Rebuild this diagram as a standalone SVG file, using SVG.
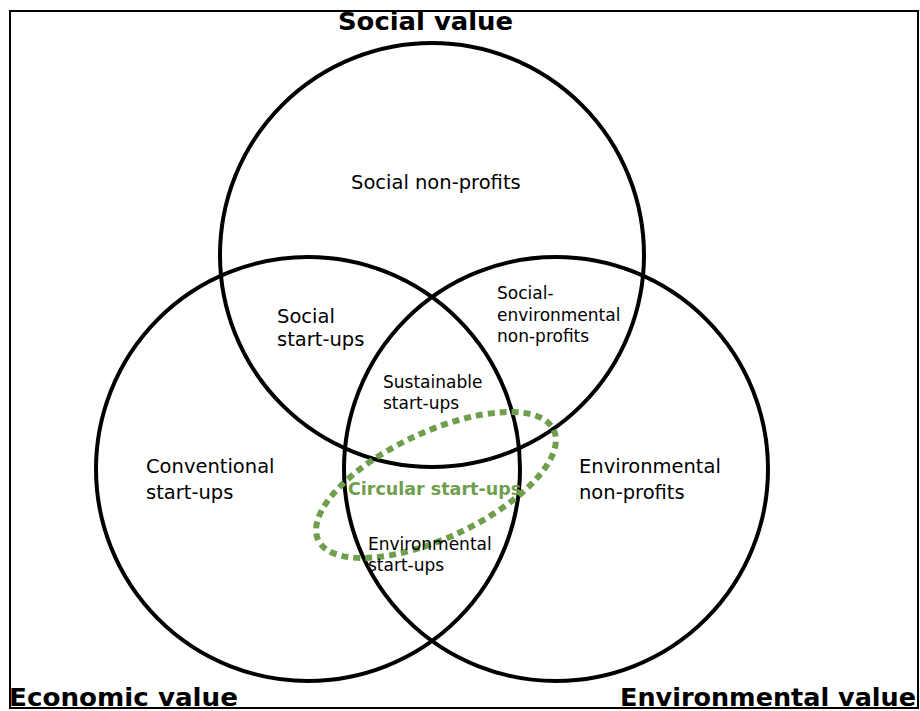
<svg xmlns="http://www.w3.org/2000/svg" width="920" height="711" viewBox="0 0 920 711">
<style>
.frame{fill:none;stroke:#000;stroke-width:2}
.set{fill:none;stroke:#000;stroke-width:4}
.lbl{font-family:"DejaVu Sans",Verdana,sans-serif;font-size:17px;fill:#000}
.lg{font-size:19.5px}
.title{font-family:"DejaVu Sans",Verdana,sans-serif;font-weight:bold;font-size:25px;fill:#000}
.circ{fill:none;stroke:#6f9e4c;stroke-width:6;stroke-dasharray:7 5}
.ctext{font-family:"DejaVu Sans",Verdana,sans-serif;font-weight:bold;font-size:17.5px;fill:#6f9e4c}
</style>
<rect width="920" height="711" fill="#fff"/>
<rect class="frame" x="10" y="11" width="908" height="697"/>
<g id="social">
<circle class="set" cx="432" cy="255" r="212"/>
<text class="title" x="338" y="30" style="font-size:24px" textLength="175" lengthAdjust="spacingAndGlyphs">Social value</text>
</g>
<g id="economic">
<circle class="set" cx="308" cy="469" r="212"/>
<text class="title" x="9" y="705.5" textLength="229" lengthAdjust="spacingAndGlyphs">Economic value</text>
</g>
<g id="environmental">
<circle class="set" cx="556" cy="469" r="212"/>
<text class="title" x="620" y="705.5" textLength="296" lengthAdjust="spacingAndGlyphs">Environmental value</text>
</g>
<g id="circular">
<ellipse class="circ" cx="436" cy="485" rx="130" ry="53" transform="rotate(-25 436 485)"/>
<text class="ctext" x="348" y="495">Circular start-ups</text>
</g>
<g id="labels">
<text class="lbl lg" x="351" y="189">Social non-profits</text>
<text class="lbl lg" x="277" y="323">Social<tspan x="277" dy="23">start-ups</tspan></text>
<text class="lbl" x="497" y="299">Social-<tspan x="497" dy="22">environmental</tspan><tspan x="497" dy="21">non-profits</tspan></text>
<text class="lbl" x="383" y="388">Sustainable<tspan x="383" dy="20.5">start-ups</tspan></text>
<text class="lbl lg" x="146" y="473">Conventional<tspan x="146" dy="26">start-ups</tspan></text>
<text class="lbl lg" x="579" y="473">Environmental<tspan x="579" dy="26">non-profits</tspan></text>
<text class="lbl" x="368" y="550">Environmental<tspan x="368" dy="20.5">start-ups</tspan></text>
</g>
</svg>
